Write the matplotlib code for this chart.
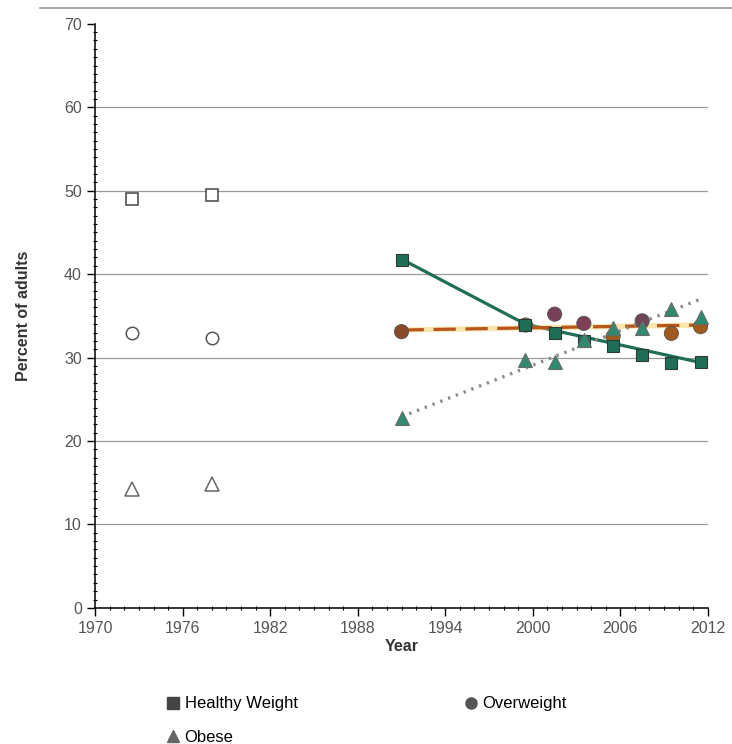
import matplotlib
matplotlib.use("Agg")
import matplotlib.pyplot as plt
from matplotlib.lines import Line2D
from matplotlib.ticker import MultipleLocator

plt.rcParams['font.family'] = ['Liberation Sans', 'DejaVu Sans']

# ---- data ----
early_years = [1972.5, 1978]
early_healthy = [49.0, 49.5]
early_overweight = [32.9, 32.4]
early_obese = [14.3, 14.9]

years = [1991, 1999.5, 2001.5, 2003.5, 2005.5, 2007.5, 2009.5, 2011.5]
healthy = [41.7, 33.9, 32.9, 32.0, 31.4, 30.3, 29.3, 29.5]
overweight = [33.1, 33.9, 35.2, 34.1, 32.5, 34.4, 32.9, 33.7]
obese = [22.8, 29.7, 29.5, 32.1, 33.6, 33.6, 35.8, 34.8]

# trend lines (fitted segments)
healthy_trend_x = [1991, 1999.5, 2011.5]
healthy_trend_y = [41.8, 34.0, 29.4]
overweight_trend_x = [1991, 2011.5]
overweight_trend_y = [33.3, 33.9]
obese_trend_x = [1991, 2011.5]
obese_trend_y = [22.9, 37.0]

# styles
green = '#1f6e58'
tri_green = '#2f8a70'
ow_colors = ['#8a4a2a', '#9a5a22', '#7a3f58', '#7e3f55', '#9a5a22', '#6e4658', '#a05a1e', '#a05a1e']

fig = plt.figure(figsize=(7.32, 7.44), dpi=100)
ax = fig.add_axes([0.130, 0.183, 0.837, 0.785])

# gridlines
for yv in range(10, 70, 10):
    ax.axhline(yv, color='#9a9a9a', lw=0.9, zorder=0)

# trend lines
ax.plot(healthy_trend_x, healthy_trend_y, color=green, lw=2.3, zorder=2)
ax.plot(overweight_trend_x, overweight_trend_y, color='#f2c94a', lw=3.8, alpha=0.45, zorder=2)
ax.plot(overweight_trend_x, overweight_trend_y, color='#b8561c', lw=2.3,
        linestyle=(0, (7, 3)), zorder=2)
ax.plot(obese_trend_x, obese_trend_y, color='#8a8a8a', lw=2.4,
        linestyle=(0, (0.7, 1.8)), zorder=2)

# early open markers
ax.plot(early_years, early_healthy, 's', ms=8.5, mfc='white', mec='#444444', mew=1.1, zorder=3)
ax.plot(early_years, early_overweight, 'o', ms=9, mfc='white', mec='#555555', mew=1.1, zorder=3)
ax.plot(early_years, early_obese, '^', ms=9.5, mfc='white', mec='#666666', mew=1.1, zorder=3)

# recent filled markers
ax.scatter(years, overweight, s=105, c=ow_colors, edgecolors='#555555', linewidths=0.6, zorder=4)
ax.plot(years, healthy, 's', ms=9, mfc=green, mec='#2a3a35', mew=0.8, zorder=5)
ax.plot(years, obese, '^', ms=10, mfc=tri_green, mec='#6a6a6a', mew=0.8, zorder=6)

ax.set_xlim(1970, 2012)
ax.set_ylim(0, 70)
ax.set_xticks(range(1970, 2013, 6))
ax.set_yticks(range(0, 71, 10))
ax.xaxis.set_minor_locator(MultipleLocator(1))
ax.yaxis.set_minor_locator(MultipleLocator(1))
ax.tick_params(axis='both', which='major', direction='out', length=6, width=1,
               labelsize=11.5, labelcolor='#555555')
ax.tick_params(axis='both', which='minor', direction='inout', length=3, width=0.8)

for s in ['top', 'right']:
    ax.spines[s].set_visible(False)
for s in ['left', 'bottom']:
    ax.spines[s].set_linewidth(1.1)

ax.set_xlabel('Year', fontsize=11.5, fontweight='bold', color='#333333', labelpad=2)
ax.set_ylabel('Percent of adults', fontsize=11.5, fontweight='bold', color='#333333', labelpad=24)

# separator line at the top of the figure
fig.add_artist(Line2D([0.055, 1.0], [0.989, 0.989], color='#9a9a9a', lw=1.2,
                      transform=fig.transFigure))

handles = [
    Line2D([], [], marker='s', ls='none', ms=8, mfc='#444444', mec='#444444'),
    Line2D([], [], marker='^', ls='none', ms=8, mfc='#666666', mec='#666666'),
    Line2D([], [], marker='o', ls='none', ms=8, mfc='#555555', mec='#555555'),
]
labels = ['Healthy Weight', 'Obese', 'Overweight']
fig.legend(handles, labels, ncol=2, loc='upper left', bbox_to_anchor=(0.218, 0.073),
           frameon=False, fontsize=12, handlelength=0.8, handletextpad=0.3,
           columnspacing=10.0, labelspacing=1.1, borderaxespad=0)

fig.savefig('out.png', dpi=100, facecolor='white')
